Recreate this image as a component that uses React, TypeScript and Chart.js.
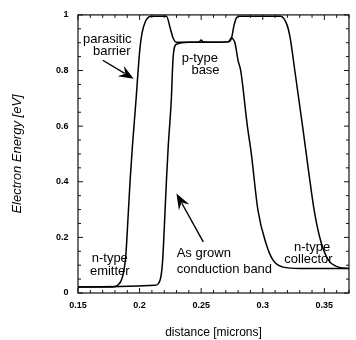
import React, { useEffect, useRef } from "react";
import { Chart, registerables } from "chart.js";

Chart.register(...registerables);

// ---- data ----
const parasiticX = [0.15, 0.178, 0.1822, 0.1861, 0.1888, 0.1901, 0.1923, 0.1941, 0.1972, 0.198, 0.2002, 0.202, 0.2047, 0.2073, 0.21, 0.2218, 0.225, 0.2271, 0.2297, 0.24, 0.2485, 0.25, 0.2515, 0.262, 0.272, 0.2747, 0.2768, 0.2787, 0.2813, 0.3143, 0.3196, 0.3222, 0.326, 0.3323, 0.3373, 0.342, 0.3475, 0.3535, 0.3615, 0.37];
const parasiticY = [0.022, 0.022, 0.028, 0.058, 0.134, 0.229, 0.405, 0.523, 0.7, 0.75, 0.876, 0.935, 0.976, 0.992, 0.995, 0.995, 0.95, 0.918, 0.902, 0.902, 0.903, 0.91, 0.903, 0.902, 0.903, 0.918, 0.965, 0.99, 0.995, 0.995, 0.965, 0.918, 0.8, 0.6, 0.435, 0.29, 0.18, 0.117, 0.093, 0.088];

const grownX = [0.15, 0.2126, 0.2166, 0.2186, 0.22, 0.2218, 0.2232, 0.2258, 0.2271, 0.2297, 0.24, 0.26, 0.272, 0.2747, 0.276, 0.2774, 0.28, 0.2821, 0.2875, 0.2906, 0.296, 0.3025, 0.3085, 0.3165, 0.33, 0.37];
const grownY = [0.022, 0.028, 0.046, 0.11, 0.229, 0.405, 0.523, 0.7, 0.84, 0.894, 0.902, 0.902, 0.903, 0.918, 0.912, 0.9, 0.835, 0.8, 0.6, 0.505, 0.3, 0.18, 0.117, 0.093, 0.088, 0.088];

const xTickLabels = ["0.15", "0.2", "0.25", "0.3", "0.35"];
const yTickLabels = ["0", "0.2", "0.4", "0.6", "0.8", "1"];
const xTitle = "distance [microns]";
const yTitle = "Electron Energy [eV]";

const FONT = "'Liberation Sans', Arial, Helvetica, sans-serif";

function fmt(v: number) {
  return String(Math.round(v * 100) / 100);
}
function isMult(v: number, step: number) {
  return Math.abs(v / step - Math.round(v / step)) < 1e-6;
}

const framePlugin = {
  id: "frameTicks",
  afterDraw(chart: any) {
    const { ctx, chartArea: a, scales } = chart;
    const xs = scales.x;
    const ys = scales.y;
    ctx.save();
    ctx.strokeStyle = "#111";
    ctx.lineWidth = 1.2;
    ctx.strokeRect(a.left, a.top, a.right - a.left, a.bottom - a.top);
    ctx.lineWidth = 1;
    ctx.beginPath();
    xs.ticks.forEach((t: any) => {
      const p = xs.getPixelForValue(t.value);
      const len = isMult(t.value, 0.05) ? 5 : 3;
      ctx.moveTo(p, a.bottom);
      ctx.lineTo(p, a.bottom - len);
      ctx.moveTo(p, a.top);
      ctx.lineTo(p, a.top + len);
    });
    ys.ticks.forEach((t: any) => {
      const p = ys.getPixelForValue(t.value);
      const len = isMult(t.value, 0.2) ? 5 : 3;
      ctx.moveTo(a.left, p);
      ctx.lineTo(a.left + len, p);
      ctx.moveTo(a.right, p);
      ctx.lineTo(a.right - len, p);
    });
    ctx.stroke();
    ctx.restore();
  },
};

function arrow(ctx: CanvasRenderingContext2D, x1: number, y1: number, x2: number, y2: number, head: number, wing: number) {
  const ang = Math.atan2(y2 - y1, x2 - x1);
  const cos = Math.cos(ang);
  const sin = Math.sin(ang);
  const bx = x2 - head * cos;
  const by = y2 - head * sin;
  ctx.beginPath();
  ctx.moveTo(x1, y1);
  ctx.lineTo(bx + 0.3 * head * cos, by + 0.3 * head * sin);
  ctx.stroke();
  ctx.beginPath();
  ctx.moveTo(x2, y2);
  ctx.lineTo(bx - wing * sin, by + wing * cos);
  ctx.lineTo(bx + 0.35 * head * cos, by + 0.35 * head * sin);
  ctx.lineTo(bx + wing * sin, by - wing * cos);
  ctx.closePath();
  ctx.fill();
}

const annotationPlugin = {
  id: "notes",
  afterDatasetsDraw(chart: any) {
    const { ctx, scales } = chart;
    const X = (v: number) => scales.x.getPixelForValue(v);
    const Y = (v: number) => scales.y.getPixelForValue(v);
    ctx.save();
    ctx.fillStyle = "#000";
    ctx.strokeStyle = "#000";
    ctx.font = `13px ${FONT}`;
    ctx.textBaseline = "middle";
    ctx.textAlign = "center";
    ctx.fillText("parasitic", X(0.1738), Y(0.912));
    ctx.fillText("barrier", X(0.1774), Y(0.869));
    ctx.fillText("p-type", X(0.2489), Y(0.844));
    ctx.fillText("base", X(0.2535), Y(0.799));
    ctx.fillText("n-type", X(0.1758), Y(0.124));
    ctx.fillText("emitter", X(0.1758), Y(0.078));
    ctx.fillText("n-type", X(0.34), Y(0.164));
    ctx.fillText("collector", X(0.3371), Y(0.119));
    ctx.textAlign = "left";
    ctx.fillText("As grown", X(0.2301), Y(0.141));
    ctx.fillText("conduction band", X(0.2301), Y(0.084));
    ctx.lineWidth = 1.4;
    arrow(ctx, X(0.1701), Y(0.837), X(0.1952), Y(0.77), 15, 6);
    arrow(ctx, X(0.2517), Y(0.184), X(0.2299), Y(0.358), 16, 6);
    ctx.restore();
  },
};

export default function App() {
  const ref = useRef<HTMLCanvasElement>(null);
  useEffect(() => {
    if (!ref.current) return;
    const chart = new Chart(ref.current, {
      type: "line",
      data: {
        datasets: [
          {
            label: "parasitic barrier",
            data: parasiticX.map((x, i) => ({ x, y: parasiticY[i] })),
            borderColor: "#000",
            borderWidth: 1.5,
            pointRadius: 0,
            fill: false,
            cubicInterpolationMode: "monotone",
          },
          {
            label: "As grown conduction band",
            data: grownX.map((x, i) => ({ x, y: grownY[i] })),
            borderColor: "#000",
            borderWidth: 1.5,
            pointRadius: 0,
            fill: false,
            cubicInterpolationMode: "monotone",
          },
        ],
      },
      options: {
        animation: false,
        responsive: false,
        maintainAspectRatio: false,
        layout: { padding: { left: 0, right: 1, top: 10, bottom: 0 } },
        plugins: { legend: { display: false }, tooltip: { enabled: false } },
        scales: {
          x: {
            type: "linear",
            min: 0.15,
            max: 0.37,
            grid: { display: false, drawTicks: false },
            border: { display: false },
            ticks: {
              stepSize: 0.01,
              autoSkip: false,
              maxRotation: 0,
              padding: 7,
              color: "#000",
              font: { size: 9, weight: "bold", family: FONT },
              callback: (v: any) => {
                const s = fmt(Number(v));
                return isMult(Number(v), 0.05) && xTickLabels.includes(s) ? s : "";
              },
            },
            title: {
              display: true,
              text: xTitle,
              color: "#000",
              font: { size: 12, family: FONT },
              padding: { top: 0, bottom: 0 },
            },
            afterFit: (s: any) => {
              s.height = 47;
            },
          },
          y: {
            type: "linear",
            min: 0,
            max: 1,
            grid: { display: false, drawTicks: false },
            border: { display: false },
            ticks: {
              stepSize: 0.05,
              autoSkip: false,
              padding: 9.5,
              color: "#000",
              font: { size: 9, weight: "bold", family: FONT },
              callback: (v: any) => {
                const s = fmt(Number(v));
                return isMult(Number(v), 0.2) && yTickLabels.includes(s) ? s : "";
              },
            },
            title: {
              display: true,
              text: yTitle,
              color: "#000",
              font: { size: 13, family: FONT, style: "italic" },
              padding: { top: 10, bottom: 0 },
            },
            afterFit: (s: any) => {
              s.width = 78;
            },
          },
        },
      },
      plugins: [framePlugin, annotationPlugin],
    } as any);
    return () => chart.destroy();
  }, []);
  return (
    <div style={{ position: "fixed", left: 0, top: 0, width: 356, height: 340, background: "#fff" }}>
      <canvas ref={ref} width={356} height={340} style={{ width: 356, height: 340, display: "block" }} />
    </div>
  );
}
